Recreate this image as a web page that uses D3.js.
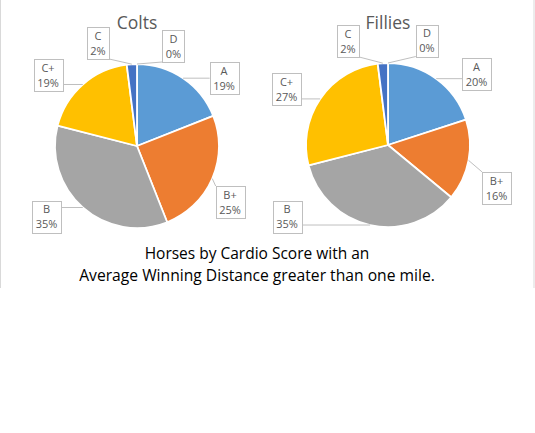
<!DOCTYPE html>
<html><head><meta charset="utf-8">
<script src="https://cdn.jsdelivr.net/npm/d3@7"></script>
<style>
html,body{margin:0;padding:0;background:#fff;}
svg{display:block;}
</style></head>
<body>
<svg id="chart" width="535" height="433"></svg>
<script>
// ---- data ----
const categories = ["A", "B+", "B", "C+", "C", "D"];
const coltsValues = [19, 25, 35, 19, 2, 0];
const filliesValues = [20, 16, 35, 27, 2, 0];
const chartTitles = ["Colts", "Fillies"];
const titleLines = ["Horses by Cardio Score with an", "Average Winning Distance greater than one mile."];

// ---- layout / style ----
const colors = ["#5B9BD5", "#ED7D31", "#A5A5A5", "#FFC000", "#4472C4", "#70AD47"];
const pies = [
  {values: coltsValues, title: chartTitles[0], cx: 137, cy: 146, r: 82,
   labelOffsets: [[87,-68],[93,56],[-90.5,70.5],[-89,-71],[-39,-103],[36.5,-100]]},
  {values: filliesValues, title: chartTitles[1], cx: 388, cy: 145, r: 82,
   labelOffsets: [[88.5,-71],[108.5,43],[-101,71.5],[-101.5,-56],[-40,-104],[39,-104.5]]}
];
const labelFont = "'Open Sans', 'Noto Sans', sans-serif";
const gray = "#595959";

const svg = d3.select("#chart");

// frame lines
svg.append("line").attr("x1",0.5).attr("x2",0.5).attr("y1",0).attr("y2",288).attr("stroke","#d9d9d9");
svg.append("line").attr("x1",534).attr("x2",534).attr("y1",0).attr("y2",288).attr("stroke","#d9d9d9");

const pieGen = d3.pie().sort(null).value(d => d);
const color = d3.scaleOrdinal().domain(categories).range(colors);

pies.forEach(p => {
  const g = svg.append("g").attr("transform", `translate(${p.cx},${p.cy})`);
  const arcs = pieGen(p.values);
  const arc = d3.arc().innerRadius(0).outerRadius(p.r);

  g.selectAll("path.slice").data(arcs).join("path")
    .attr("class","slice")
    .attr("d", arc)
    .attr("fill", (d,i) => color(categories[i]))
    .attr("stroke", "#fff")
    .attr("stroke-width", d => d.value > 0 ? 1.8 : 0)
    .attr("stroke-linejoin","round");

  // title
  svg.append("text")
    .attr("x", p.cx).attr("y", 29)
    .attr("text-anchor","middle")
    .attr("font-family", labelFont)
    .attr("font-size", 17.5)
    .attr("fill", gray)
    .text(p.title);

  // labels
  const total = d3.sum(p.values);
  arcs.forEach((d, i) => {
    const mid = (d.startAngle + d.endAngle) / 2;
    const ax = Math.sin(mid) * p.r, ay = -Math.cos(mid) * p.r;
    const [ox, oy] = p.labelOffsets[i];
    const pct = Math.round(d.value / total * 100) + "%";
    const lg = g.append("g");
    const t1 = lg.append("text").attr("x", ox).attr("y", oy - 3.5)
      .attr("text-anchor","middle").attr("font-family", labelFont)
      .attr("font-size", 11).attr("fill", gray).text(categories[i]);
    const t2 = lg.append("text").attr("x", ox).attr("y", oy + 11.5)
      .attr("text-anchor","middle").attr("font-family", labelFont)
      .attr("font-size", 11).attr("fill", gray).text(pct);
    const w = Math.max(t1.node().getComputedTextLength(), t2.node().getComputedTextLength()) + 7;
    const h = 32;
    const bx = ox - w/2, by = oy - h/2;
    const nx = Math.max(bx, Math.min(ax, bx + w));
    const ny = Math.max(by, Math.min(ay, by + h));
    lg.insert("line", "text")
      .attr("x1", ax).attr("y1", ay).attr("x2", nx).attr("y2", ny)
      .attr("stroke", "#bfbfbf").attr("stroke-width", 1);
    lg.insert("rect", "text")
      .attr("x", Math.round(bx)+0.5).attr("y", Math.round(by)+0.5)
      .attr("width", Math.round(w)).attr("height", h)
      .attr("fill", "#fff").attr("stroke", "#bfbfbf").attr("stroke-width", 1);
  });
});

// bottom title
const titleFont = "'Open Sans', 'Noto Sans', sans-serif";
const tl = svg.append("g");
const baselines = [259, 281];
const targetW = [225, 356];
titleLines.forEach((s, i) => {
  const t = tl.append("text").attr("x", 257).attr("y", baselines[i])
    .attr("text-anchor","middle").attr("font-family", titleFont)
    .attr("font-size", 16).attr("fill", "#000").text(s);
  const len = t.node().getComputedTextLength();
  t.attr("font-size", 16 * targetW[i] / len);
});
</script>
</body></html>
